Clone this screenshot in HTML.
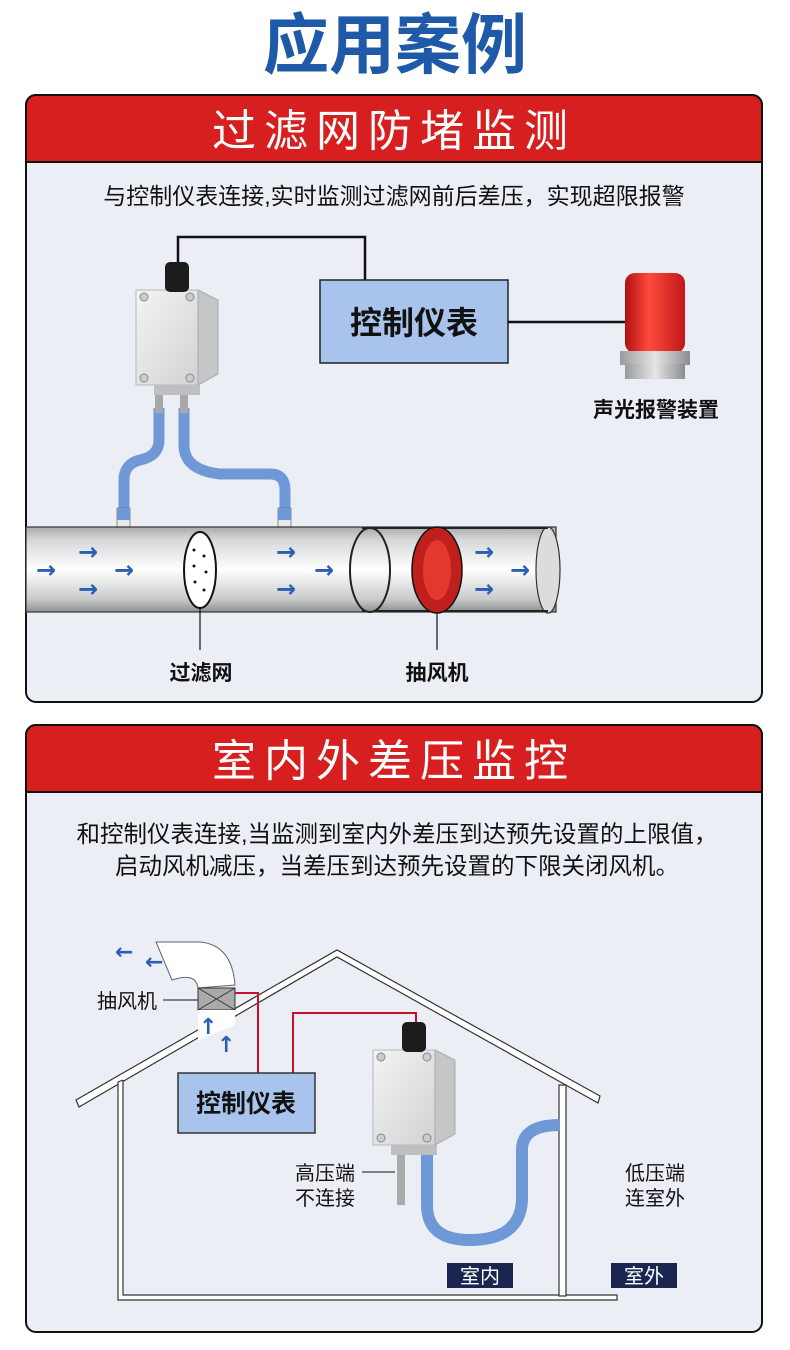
<!DOCTYPE html>
<html><head><meta charset="utf-8"><style>
html,body{margin:0;padding:0;background:#fff;}
body{width:790px;height:1345px;overflow:hidden;font-family:"Liberation Sans","Noto Sans CJK SC",sans-serif;}
</style></head><body>
<svg width="790" height="1345" viewBox="0 0 790 1345" xmlns="http://www.w3.org/2000/svg" font-family="Liberation Sans, Noto Sans CJK SC, sans-serif">
<defs>
<linearGradient id="pipe" x1="0" y1="0" x2="0" y2="1">
<stop offset="0" stop-color="#a9aaac"/><stop offset="0.15" stop-color="#d6d7d9"/><stop offset="0.5" stop-color="#ffffff"/><stop offset="0.85" stop-color="#c9cacc"/><stop offset="1" stop-color="#8e8f91"/></linearGradient>
<linearGradient id="box" x1="0" y1="0" x2="1" y2="1">
<stop offset="0" stop-color="#f4f4f4"/><stop offset="1" stop-color="#d0d2d4"/></linearGradient>
<linearGradient id="red" x1="0" y1="0" x2="1" y2="0">
<stop offset="0" stop-color="#b01010"/><stop offset="0.4" stop-color="#ff4a3d"/><stop offset="1" stop-color="#c0181a"/></linearGradient>
<linearGradient id="grey" x1="0" y1="0" x2="1" y2="0">
<stop offset="0" stop-color="#9a9b9d"/><stop offset="0.5" stop-color="#e5e5e5"/><stop offset="1" stop-color="#8c8d8f"/></linearGradient>
<g id="sensor">
<rect x="0" y="28" width="62" height="95" fill="url(#box)" stroke="#b5b7b9"/>
<polygon points="62,28 82,38 82,112 62,123" fill="#c4c6c8" stroke="#a7a9ab"/>
<rect x="29" y="0" width="24" height="30" rx="5" fill="#1c1c1c"/>
<circle cx="8" cy="35" r="4" fill="#ccc" stroke="#888"/><circle cx="54" cy="35" r="4" fill="#ccc" stroke="#888"/>
<circle cx="8" cy="116" r="4" fill="#ccc" stroke="#888"/><circle cx="54" cy="116" r="4" fill="#ccc" stroke="#888"/>
<rect x="18" y="123" width="46" height="10" fill="#bdbfc1"/>
</g>
</defs>
<rect width="790" height="1345" fill="#fff"/>
<text x="395" y="68" text-anchor="middle" font-size="66" font-weight="bold" fill="#1f5aa8">应用案例</text>

<!-- Panel 1 -->
<rect x="26" y="95" width="736" height="607" rx="10" fill="#ebeff5" stroke="#111" stroke-width="2"/>
<path d="M26 162 V105 a10 10 0 0 1 10 -10 H752 a10 10 0 0 1 10 10 V162 Z" fill="#d71f1f" stroke="#111" stroke-width="2"/>
<text x="394" y="146" text-anchor="middle" font-size="44" fill="#fff" letter-spacing="8">过滤网防堵监测</text>
<text x="394" y="204" text-anchor="middle" font-size="23" fill="#111">与控制仪表连接,实时监测过滤网前后差压，实现超限报警</text>

<polyline points="178,265 178,237 365,237 365,280" fill="none" stroke="#111" stroke-width="2.5"/>
<rect x="320" y="280" width="188" height="83" fill="#a9c4ec" stroke="#222" stroke-width="1.5"/>
<text x="414" y="334" text-anchor="middle" font-size="32" font-weight="bold" fill="#111">控制仪表</text>
<line x1="508" y1="322" x2="626" y2="322" stroke="#111" stroke-width="2.5"/>
<rect x="625" y="273" width="60" height="80" rx="10" fill="url(#red)"/>
<rect x="620" y="351" width="70" height="14" fill="url(#grey)"/>
<rect x="625" y="364" width="60" height="15" fill="url(#grey)"/>
<text x="656" y="417" text-anchor="middle" font-size="21" font-weight="bold" fill="#111">声光报警装置</text>

<!-- tubes -->
<path d="M159 408 V440 Q159 456 140 460 Q124 464 124 480 V515" fill="none" stroke="#6f98d6" stroke-width="11"/>
<path d="M184 408 V445 Q184 470 220 474 L270 474 Q285 474 285 490 V515" fill="none" stroke="#6f98d6" stroke-width="11"/>
<rect x="117" y="508" width="13" height="22" fill="#e8e8e8" stroke="#777" stroke-width="0.8"/>
<rect x="117" y="508" width="13" height="12" fill="#6f98d6"/>
<rect x="278" y="508" width="13" height="22" fill="#e8e8e8" stroke="#777" stroke-width="0.8"/>
<rect x="278" y="508" width="13" height="12" fill="#6f98d6"/>
<rect x="155" y="383" width="8" height="30" fill="#a8a8a8"/><rect x="180" y="383" width="8" height="30" fill="#a8a8a8"/>
<use href="#sensor" x="136" y="262"/>

<!-- pipe -->
<rect x="26" y="527" width="530" height="85" fill="url(#pipe)" stroke="#333" stroke-width="1.2"/>
<ellipse cx="548" cy="570" rx="12" ry="43" fill="#dcdcdc" stroke="#333" stroke-width="1.2"/>
<path d="M362 528 H548 M362 611 H548" stroke="#222" stroke-width="2"/>
<ellipse cx="370" cy="570" rx="20" ry="42" fill="url(#pipe)" stroke="#222" stroke-width="2"/>
<ellipse cx="437" cy="570" rx="25" ry="43" fill="#c0201c" stroke="#111" stroke-width="1.5"/>
<ellipse cx="437" cy="570" rx="14" ry="30" fill="#e2382f"/>
<ellipse cx="200" cy="570" rx="16" ry="38" fill="#fff" stroke="#111" stroke-width="2"/>
<g fill="#111"><circle cx="194" cy="550" r="1.5"/><circle cx="204" cy="556" r="1.5"/><circle cx="194" cy="566" r="1.5"/><circle cx="206" cy="572" r="1.5"/><circle cx="195" cy="582" r="1.5"/><circle cx="204" cy="590" r="1.5"/></g>
<g fill="#2a5fb5" font-size="24" font-weight="bold" font-family="DejaVu Sans, sans-serif">
<text x="36" y="578">→</text><text x="78" y="560">→</text><text x="78" y="597">→</text><text x="114" y="578">→</text>
<text x="276" y="560">→</text><text x="276" y="597">→</text><text x="314" y="578">→</text>
<text x="474" y="560">→</text><text x="474" y="597">→</text><text x="510" y="578">→</text></g>
<line x1="200" y1="608" x2="200" y2="650" stroke="#111" stroke-width="1.2"/>
<line x1="437" y1="613" x2="437" y2="650" stroke="#111" stroke-width="1.2"/>
<text x="201" y="680" text-anchor="middle" font-size="21" font-weight="bold" fill="#111">过滤网</text>
<text x="437" y="680" text-anchor="middle" font-size="21" font-weight="bold" fill="#111">抽风机</text>

<!-- Panel 2 -->
<rect x="26" y="725" width="736" height="607" rx="10" fill="#ebeff5" stroke="#111" stroke-width="2"/>
<path d="M26 792 V735 a10 10 0 0 1 10 -10 H752 a10 10 0 0 1 10 10 V792 Z" fill="#d71f1f" stroke="#111" stroke-width="2"/>
<text x="394" y="776" text-anchor="middle" font-size="44" fill="#fff" letter-spacing="8">室内外差压监控</text>
<text x="397" y="842" text-anchor="middle" font-size="23.5" fill="#111">和控制仪表连接,当监测到室内外差压到达预先设置的上限值，</text>
<text x="397" y="874" text-anchor="middle" font-size="23.5" fill="#111">启动风机减压，当差压到达预先设置的下限关闭风机。</text>

<!-- house -->
<polygon points="76,1100 337,950 600,1096 598,1103 337,957 79,1107" fill="#fff" stroke="#333" stroke-width="1.2"/>
<polyline points="123,1080 118,1082 118,1300 617,1300 617,1295 123,1295 123,1080" fill="#fff" stroke="#333" stroke-width="1.2"/>
<rect x="559" y="1085" width="7" height="211" fill="#fff" stroke="#333" stroke-width="1.2"/>
<!-- duct -->
<path d="M156 942 L200 942 Q232 945 235 985 L198 988 Q196 972 172 980 Z" fill="#fff" stroke="#666" stroke-width="1"/>
<rect x="198" y="988" width="37" height="22" fill="#aaa" stroke="#333"/>
<path d="M198 988 L235 1010 M235 988 L198 1010" stroke="#333"/>
<polygon points="198,1010 235,1010 235,1025 198,1040" fill="#fff"/>
<g fill="#2a5fb5" font-size="22" font-weight="bold" font-family="DejaVu Sans, sans-serif">
<text x="115" y="959">←</text><text x="145" y="969">←</text><text x="199" y="1034">↑</text><text x="217" y="1052">↑</text></g>
<text x="127" y="1008" text-anchor="middle" font-size="20" fill="#111">抽风机</text>
<line x1="163" y1="1000" x2="198" y2="1000" stroke="#111"/>
<polyline points="235,993 258,993 258,1074" fill="none" stroke="#c8102e" stroke-width="2"/>
<polyline points="293,1074 293,1013 416,1013 416,1030" fill="none" stroke="#c8102e" stroke-width="2"/>
<rect x="178" y="1073" width="137" height="60" fill="#a9c4ec" stroke="#333" stroke-width="1.5"/>
<text x="246" y="1112" text-anchor="middle" font-size="25" font-weight="bold" fill="#111">控制仪表</text>
<!-- tube -->
<path d="M427 1150 V1205 Q427 1240 470 1240 Q520 1240 522 1200 V1150 Q522 1125 560 1125" fill="none" stroke="#6f98d6" stroke-width="12"/>
<rect x="397" y="1145" width="8" height="60" fill="#aaa"/>
<use href="#sensor" x="373" y="1022"/>
<text x="325" y="1180" text-anchor="middle" font-size="20" fill="#111">高压端</text>
<text x="325" y="1205" text-anchor="middle" font-size="20" fill="#111">不连接</text>
<line x1="362" y1="1172" x2="395" y2="1172" stroke="#111"/>
<text x="655" y="1180" text-anchor="middle" font-size="20" fill="#111">低压端</text>
<text x="655" y="1205" text-anchor="middle" font-size="20" fill="#111">连室外</text>
<rect x="447" y="1263" width="66" height="25" fill="#1a2650"/>
<text x="480" y="1283" text-anchor="middle" font-size="20" fill="#fff">室内</text>
<rect x="611" y="1263" width="66" height="25" fill="#1a2650"/>
<text x="644" y="1283" text-anchor="middle" font-size="20" fill="#fff">室外</text>
</svg>
</body></html>
